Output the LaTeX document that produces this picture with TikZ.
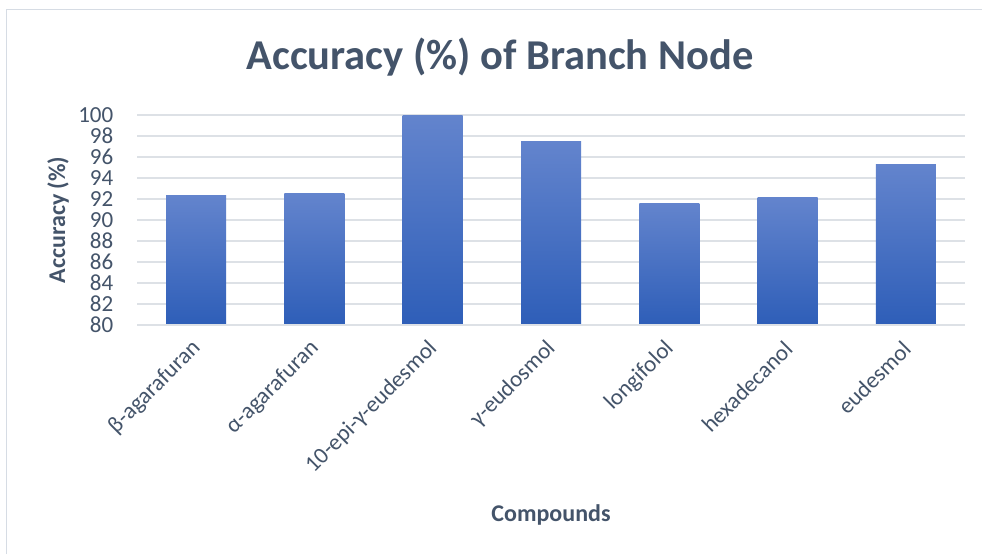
\documentclass[tikz,border=0pt]{standalone}
\usepackage{fontspec}
\setmainfont{Carlito}
\definecolor{txt}{HTML}{44546A}
\definecolor{gridc}{HTML}{DDE1E6}
\definecolor{framec}{HTML}{D6DCE4}
\definecolor{bartop}{HTML}{6384CD}
\definecolor{barmid}{HTML}{4472C4}
\definecolor{barbot}{HTML}{2E5EB8}
\tikzset{
  ticklbl/.style={anchor=east, inner sep=0pt, text=txt, font=\fontsize{23}{26}\selectfont},
  catlbl/.style={anchor=east, inner sep=0pt, rotate=45, text=txt, font=\fontsize{23}{26}\selectfont},
  axtitle/.style={inner sep=0pt, text=txt, font=\fontsize{24}{28}\selectfont\bfseries},
  charttitle/.style={inner sep=0pt, text=txt, font=\fontsize{42.5}{48}\selectfont\bfseries},
  gridline/.style={draw=gridc, line width=1.5pt},
  barfill/.style={top color=bartop, middle color=barmid, bottom color=barbot, draw=none},
}
\begin{document}
\begin{tikzpicture}[x=1pt,y=-1pt]
\useasboundingbox (0,0) rectangle (982,554);
\fill[white] (0,0) rectangle (982,554);
\draw[framec, line width=1.5pt] (6.5,554) -- (6.5,9.5) -- (982,9.5);
% gridlines and tick labels
\foreach \v in {80,82,...,100}{
  \pgfmathsetmacro{\yy}{325-(\v-80)*10.5}
  \draw[gridline] (137,\yy) -- (965,\yy);
  \node[ticklbl] (tick\v) at (113.5,\yy) {\v};
}
% bars
\foreach \i/\val/\name in {1/92.3/{β-agarafuran},2/92.5/{α-agarafuran},3/100/{10-epi-γ-eudesmol},4/97.5/{γ-eudosmol},5/91.6/{longifolol},6/92.1/{hexadecanol},7/95.3/{eudesmol}}{
  \pgfmathsetmacro{\cx}{137+(\i-0.5)*118.286}
  \pgfmathsetmacro{\ytop}{325-(\val-80)*10.5}
  \shade[barfill] (\cx-30,\ytop) rectangle (\cx+30,325);
  \node[catlbl] (cat\i) at (\cx+1,345) {\name};
}
\draw[gridline] (137,325) -- (965,325);
% titles
\node[charttitle] (title) at (500,57) {Accuracy (\%) of Branch Node};
\node[axtitle, rotate=90] (ytitle) at (58,220) {Accuracy (\%)};
\node[axtitle] (xtitle) at (551,515) {Compounds};
\end{tikzpicture}
\end{document}
